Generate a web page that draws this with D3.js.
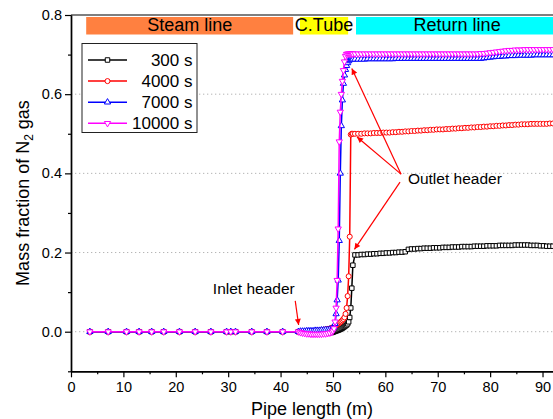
<!DOCTYPE html>
<html>
<head>
<meta charset="utf-8">
<script src="https://cdn.jsdelivr.net/npm/d3@7"></script>
<style>
  body { margin: 0; background: #fff; }
  svg { display: block; font-family: "Liberation Sans", Arial, sans-serif; }
</style>
</head>
<body>
<div class="chart"></div>
<script>
// pipe positions (m)
let pipeX = [
  3.6, 7.1, 10.6, 13.0, 15.4, 17.7, 20.7, 23.7, 26.7, 29.7, 30.5, 31.4, 34.5, 37.4, 40.4, 43.4,
  43.8, 44.2, 44.6, 45.0, 45.4, 45.8, 46.2, 46.6, 47.0, 47.4, 47.8, 48.2, 48.6, 49.0, 49.4, 49.8,
  50.0, 50.2, 50.4, 50.6, 50.8, 51.0, 51.2, 51.4, 51.6, 51.8, 52.0, 52.2, 52.4, 52.6, 52.8, 53.0, 53.2, 53.4, 53.6, 53.8,
  54.2, 54.8, 55.4, 56.0, 56.6, 57.2, 57.8, 58.4, 59.0, 59.6, 60.2, 60.8, 61.4, 62.0, 62.6, 63.2,
  63.8, 64.4, 65.0, 65.6, 66.2, 66.8, 67.4, 68.0, 68.6, 69.2, 69.8, 70.4, 71.0, 71.6, 72.2, 72.8,
  73.4, 74.0, 74.6, 75.2, 75.8, 76.4, 77.0, 77.6, 78.2, 78.8, 79.4, 80.0, 80.6, 81.2, 81.8, 82.4,
  83.0, 83.6, 84.2, 84.8, 85.4, 86.0, 86.6, 87.2, 87.8, 88.4, 89.0, 89.6, 90.2, 90.8, 91.4, 92.0
];

let n2At300 = [
  0, 0, 0, 0, 0, 0, 0, 0, 0, 0, 0, 0, 0, 0, 0, 0,
  0, 0, 0, 0, 0, -0.001, -0.001, -0.002, -0.002, -0.002, -0.003, -0.003, -0.003, -0.003, -0.002, -0.002,
  -0.001, 0, 0.001, 0.002, 0.003, 0.004, 0.005, 0.006, 0.008, 0.009, 0.011, 0.013, 0.015, 0.017, 0.02, 0.025, 0.036, 0.06, 0.11, 0.168,
  0.194, 0.194, 0.195, 0.195, 0.196, 0.196, 0.197, 0.197, 0.198, 0.198, 0.199, 0.199, 0.2, 0.2, 0.201, 0.201,
  0.202, 0.208, 0.209, 0.209, 0.21, 0.21, 0.211, 0.211, 0.211, 0.212, 0.212, 0.212, 0.213, 0.213, 0.213, 0.214,
  0.214, 0.214, 0.215, 0.215, 0.215, 0.215, 0.216, 0.216, 0.216, 0.216, 0.217, 0.217, 0.217, 0.217, 0.218, 0.218,
  0.218, 0.218, 0.218, 0.219, 0.219, 0.219, 0.219, 0.219, 0.218, 0.218, 0.218, 0.217, 0.217, 0.216, 0.216, 0.216
];

let n2At4000 = [
  0, 0, 0, 0, 0, 0, 0, 0, 0, 0, 0, 0, 0, 0, 0, 0,
  0, 0, 0, 0.001, 0.001, 0.001, 0.002, 0.002, 0.003, 0.003, 0.004, 0.005, 0.006, 0.007, 0.008, 0.01,
  0.011, 0.012, 0.014, 0.016, 0.018, 0.02, 0.022, 0.024, 0.026, 0.029, 0.032, 0.036, 0.045, 0.06, 0.09, 0.14, 0.24, 0.498, 0.5, 0.5,
  0.5, 0.5, 0.5, 0.501, 0.501, 0.501, 0.502, 0.502, 0.502, 0.503, 0.503, 0.503, 0.504, 0.504, 0.505, 0.505,
  0.506, 0.506, 0.507, 0.507, 0.508, 0.508, 0.509, 0.509, 0.51, 0.51, 0.511, 0.511, 0.511, 0.512, 0.512, 0.513,
  0.513, 0.514, 0.514, 0.515, 0.515, 0.516, 0.516, 0.517, 0.517, 0.518, 0.518, 0.519, 0.519, 0.52, 0.52, 0.521,
  0.521, 0.522, 0.522, 0.523, 0.523, 0.524, 0.524, 0.524, 0.525, 0.525, 0.525, 0.525, 0.525, 0.525, 0.526, 0.526
];

let n2At7000 = [
  0, 0, 0, 0, 0, 0, 0, 0, 0, 0, 0, 0, 0, 0, 0, 0,
  0.001, 0.001, 0.001, 0.002, 0.002, 0.002, 0.002, 0.003, 0.003, 0.003, 0.004, 0.004, 0.005, 0.005, 0.006, 0.007,
  0.009, 0.012, 0.02, 0.045, 0.08, 0.13, 0.23, 0.4, 0.52, 0.585, 0.627, 0.648, 0.662, 0.672, 0.679, 0.684, 0.687, 0.688, 0.688, 0.688,
  0.688, 0.688, 0.688, 0.688, 0.689, 0.689, 0.689, 0.689, 0.689, 0.689, 0.689, 0.689, 0.689, 0.69, 0.69, 0.69,
  0.69, 0.69, 0.69, 0.69, 0.69, 0.69, 0.69, 0.69, 0.69, 0.69, 0.69, 0.69, 0.69, 0.69, 0.69, 0.69,
  0.69, 0.69, 0.69, 0.69, 0.69, 0.69, 0.69, 0.69, 0.69, 0.691, 0.692, 0.693, 0.694, 0.695, 0.695, 0.696,
  0.696, 0.697, 0.697, 0.697, 0.698, 0.698, 0.698, 0.698, 0.698, 0.699, 0.699, 0.699, 0.699, 0.699, 0.699, 0.699
];

let n2At10000 = [
  0, 0, 0, 0, 0, 0, 0, 0, 0, 0, 0, 0, 0, 0, 0, 0,
  -0.002, -0.003, -0.004, -0.005, -0.005, -0.006, -0.006, -0.006, -0.006, -0.006, -0.006, -0.005, -0.005, -0.004, -0.003, -0.001,
  0.002, 0.008, 0.025, 0.06, 0.13, 0.26, 0.48, 0.555, 0.6, 0.633, 0.66, 0.682, 0.696, 0.701, 0.702, 0.702, 0.702, 0.702, 0.702, 0.702,
  0.702, 0.702, 0.702, 0.702, 0.702, 0.702, 0.702, 0.702, 0.702, 0.702, 0.702, 0.702, 0.702, 0.702, 0.702, 0.702,
  0.702, 0.702, 0.702, 0.702, 0.702, 0.702, 0.702, 0.702, 0.702, 0.702, 0.702, 0.702, 0.702, 0.702, 0.702, 0.702,
  0.702, 0.702, 0.702, 0.702, 0.702, 0.702, 0.702, 0.702, 0.703, 0.703, 0.704, 0.705, 0.706, 0.707, 0.708, 0.709,
  0.71, 0.711, 0.711, 0.712, 0.712, 0.712, 0.713, 0.713, 0.713, 0.713, 0.713, 0.713, 0.713, 0.713, 0.713, 0.713
];

let seriesNames = ['300 s', '4000 s', '7000 s', '10000 s'];
let seriesValues = [n2At300, n2At4000, n2At7000, n2At10000];
let seriesColors = ['#000000', '#ff0000', '#0000ff', '#ff00ff'];
let seriesSymbols = ['square', 'circle', 'triangle', 'triangleDown'];

// pipe sections along top
let sectionNames = ['Steam line', 'C.Tube', 'Return line'];
let sectionStart = [2.9, 43.7, 54.4];
let sectionEnd = [42.4, 52.9, 95];
let sectionColors = ['#ff8040', '#ffff00', '#00ffff'];

let xTicks = [0, 10, 20, 30, 40, 50, 60, 70, 80, 90];
let yTicks = [0, 0.2, 0.4, 0.6, 0.8];

let width = 553;
let height = 419;

let x = d3.scaleLinear().domain([0, 92]).range([71, 553]);
let y = d3.scaleLinear().domain([-0.1, 0.8]).range([371.3, 15]);

let svg = d3.select('.chart')
            .append('svg')
            .attr('width', width)
            .attr('height', height);

// dotted grid
svg.append('g')
   .selectAll('line')
   .data(yTicks.slice(0, 4))
   .enter()
   .append('line')
   .attr('x1', x(0))
   .attr('x2', x(92))
   .attr('y1', d => y(d))
   .attr('y2', d => y(d))
   .attr('stroke', '#b4b4b4')
   .attr('stroke-width', 1)
   .attr('stroke-dasharray', '1.3,2.7');

// top frame line
svg.append('line')
   .attr('x1', x(0)).attr('x2', width)
   .attr('y1', y(0.8)).attr('y2', y(0.8))
   .attr('stroke', '#000').attr('stroke-width', 1.2);

// section bands
svg.append('g')
   .selectAll('rect')
   .data(sectionNames)
   .enter()
   .append('rect')
   .attr('x', (d, i) => x(sectionStart[i]))
   .attr('width', (d, i) => x(sectionEnd[i]) - x(sectionStart[i]))
   .attr('y', 17)
   .attr('height', 17.5)
   .attr('fill', (d, i) => sectionColors[i]);
svg.append('g')
   .selectAll('text')
   .data(sectionNames)
   .enter()
   .append('text')
   .attr('x', (d, i) => i === 2 ? x(73.7) : x((sectionStart[i] + sectionEnd[i]) / 2))
   .attr('y', 30.5)
   .attr('text-anchor', 'middle')
   .attr('font-size', '18px')
   .text(d => d);

// axes
let xAxis = d3.axisBottom(x).tickValues(xTicks).tickSize(6).tickSizeOuter(0).tickPadding(4);
let xMinor = d3.axisBottom(x).tickValues([5, 15, 25, 35, 45, 55, 65, 75, 85]).tickSize(3).tickSizeOuter(0).tickFormat('');
let yAxis = d3.axisLeft(y).tickValues(yTicks).tickSize(6).tickSizeOuter(0).tickPadding(3).tickFormat(d3.format('.1f'));
let yMinor = d3.axisLeft(y).tickValues([-0.1, 0.1, 0.3, 0.5, 0.7]).tickSize(3).tickSizeOuter(0).tickFormat('');

let gx = svg.append('g').attr('transform', 'translate(0,' + y(-0.1) + ')');
gx.call(xAxis);
gx.append('g').call(xMinor);
let gy = svg.append('g').attr('transform', 'translate(' + x(0) + ',0)');
gy.call(yAxis);
gy.append('g').call(yMinor);
svg.selectAll('.domain').attr('stroke-width', 1.4);
svg.selectAll('.tick line').attr('stroke-width', 1.2);
svg.selectAll('.tick text').attr('font-size', '14.5px').attr('font-family', '"Liberation Sans", Arial, sans-serif').attr('fill', '#000');

// axis titles
svg.append('text')
   .attr('x', 312)
   .attr('y', 415)
   .attr('text-anchor', 'middle')
   .attr('font-size', '18px')
   .text('Pipe length (m)');
let yTitle = svg.append('text')
   .attr('transform', 'translate(29,' + 193 + ') rotate(-90)')
   .attr('text-anchor', 'middle')
   .attr('font-size', '18px');
yTitle.append('tspan').text('Mass fraction of N');
yTitle.append('tspan').attr('font-size', '12px').attr('dy', 4).text('2');
yTitle.append('tspan').attr('dy', -4).text(' gas');

// symbols
function symbolPath(kind) {
  if (kind === 'square') return d3.symbol().type(d3.symbolSquare).size(20)();
  if (kind === 'circle') return d3.symbol().type(d3.symbolCircle).size(20)();
  return d3.symbol().type(d3.symbolTriangle).size(17)();
}

let line = d3.line().x(d => x(d[0])).y(d => y(d[1]));

seriesValues.forEach((vals, s) => {
  let pts = pipeX.map((px, i) => [px, vals[i]]);
  let g = svg.append('g');
  g.append('path')
   .datum(pts)
   .attr('d', line)
   .attr('fill', 'none')
   .attr('stroke', seriesColors[s])
   .attr('stroke-width', 1.5);
  g.selectAll('path.mk')
   .data(pts)
   .enter()
   .append('path')
   .attr('class', 'mk')
   .attr('d', symbolPath(seriesSymbols[s]))
   .attr('transform', d => 'translate(' + x(d[0]) + ',' + y(d[1]) + ')' + (seriesSymbols[s] === 'triangleDown' ? ' rotate(180)' : ''))
   .attr('fill', '#fff')
   .attr('stroke', seriesColors[s])
   .attr('stroke-width', 1);
});

// legend
let legend = svg.append('g');
legend.append('rect')
      .attr('x', 82).attr('y', 43.5)
      .attr('width', 115).attr('height', 89)
      .attr('fill', '#fff')
      .attr('stroke', '#222')
      .attr('stroke-width', 1);
seriesNames.forEach((name, s) => {
  let ly = 60 + s * 21.1;
  legend.append('line')
        .attr('x1', 88).attr('x2', 127)
        .attr('y1', ly).attr('y2', ly)
        .attr('stroke', seriesColors[s])
        .attr('stroke-width', 1.5);
  legend.append('path')
        .attr('d', symbolPath(seriesSymbols[s]))
        .attr('transform', 'translate(107.5,' + ly + ')' + (seriesSymbols[s] === 'triangleDown' ? ' rotate(180)' : ''))
        .attr('fill', '#fff')
        .attr('stroke', seriesColors[s])
        .attr('stroke-width', 1);
  legend.append('text')
        .attr('x', 192.5)
        .attr('y', ly + 6)
        .attr('text-anchor', 'end')
        .attr('font-size', '17px')
        .text(name);
});

// annotations
svg.append('defs').append('marker')
   .attr('id', 'head')
   .attr('viewBox', '0 0 10 10')
   .attr('refX', 10).attr('refY', 5)
   .attr('markerWidth', 9).attr('markerHeight', 6)
   .attr('markerUnits', 'userSpaceOnUse')
   .attr('orient', 'auto')
   .append('path')
   .attr('d', 'M0,0 L10,5 L0,10 Z')
   .attr('fill', '#ff0000');

let arrowTail = [[63.0, 0.398], [63.0, 0.398], [62.8, 0.378], [42.8, 0.078]];
let arrowTip = [[53.6, 0.665], [54.6, 0.492], [54.1, 0.208], [43.45, 0.017]];
svg.append('g')
   .selectAll('line')
   .data(arrowTail)
   .enter()
   .append('line')
   .attr('x1', d => x(d[0])).attr('y1', d => y(d[1]))
   .attr('x2', (d, i) => x(arrowTip[i][0])).attr('y2', (d, i) => y(arrowTip[i][1]))
   .attr('stroke', '#ff0000')
   .attr('stroke-width', 1.2)
   .attr('marker-end', 'url(#head)');

svg.append('text')
   .attr('x', x(64.3)).attr('y', y(0.374))
   .attr('font-size', '15.5px')
   .text('Outlet header');
svg.append('text')
   .attr('x', x(42.7)).attr('y', y(0.096))
   .attr('text-anchor', 'end')
   .attr('font-size', '15.5px')
   .text('Inlet header');
</script>
</body>
</html>
